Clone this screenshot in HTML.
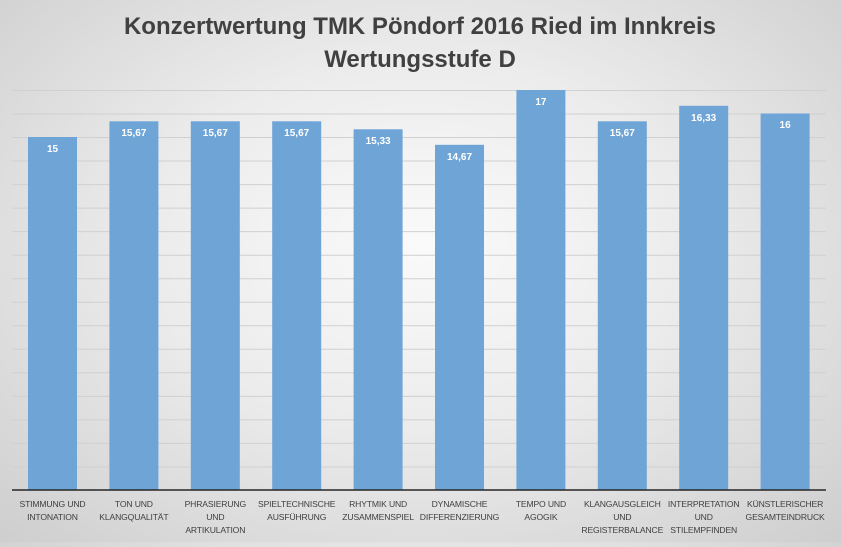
<!DOCTYPE html>
<html><head><meta charset="utf-8"><style>
html,body{margin:0;padding:0}
body{width:841px;height:542px;overflow:hidden;background:radial-gradient(ellipse 70% 75% at 50% 45%,#fafafa 0%,#ececec 45%,#cfcfcf 100%);font-family:"Liberation Sans",sans-serif;}
</style></head><body>
<svg width="841" height="542" xmlns="http://www.w3.org/2000/svg" font-family="Liberation Sans, sans-serif">
<text x="420" y="34" text-anchor="middle" font-size="24" font-weight="bold" fill="#404040">Konzertwertung TMK Pöndorf 2016 Ried im Innkreis</text>
<text x="420" y="67" text-anchor="middle" font-size="24" font-weight="bold" fill="#404040">Wertungsstufe D</text>
<g stroke="#d0d0d0" stroke-width="1">
<line x1="12" x2="826" y1="90.5" y2="90.5"/><line x1="12" x2="826" y1="114" y2="114"/><line x1="12" x2="826" y1="137.5" y2="137.5"/><line x1="12" x2="826" y1="161" y2="161"/><line x1="12" x2="826" y1="184.6" y2="184.6"/><line x1="12" x2="826" y1="208.1" y2="208.1"/><line x1="12" x2="826" y1="231.6" y2="231.6"/><line x1="12" x2="826" y1="255.2" y2="255.2"/><line x1="12" x2="826" y1="278.7" y2="278.7"/><line x1="12" x2="826" y1="302.2" y2="302.2"/><line x1="12" x2="826" y1="325.8" y2="325.8"/><line x1="12" x2="826" y1="349.3" y2="349.3"/><line x1="12" x2="826" y1="372.8" y2="372.8"/><line x1="12" x2="826" y1="396.4" y2="396.4"/><line x1="12" x2="826" y1="419.9" y2="419.9"/><line x1="12" x2="826" y1="443.4" y2="443.4"/><line x1="12" x2="826" y1="467" y2="467"/>
</g>
<g fill="#6ea5d6">
<rect x="28" y="137" width="49" height="353"/>
<rect x="109.4" y="121.3" width="49" height="368.7"/>
<rect x="190.8" y="121.3" width="49" height="368.7"/>
<rect x="272.2" y="121.3" width="49" height="368.7"/>
<rect x="353.6" y="129.3" width="49" height="360.7"/>
<rect x="435" y="144.8" width="49" height="345.2"/>
<rect x="516.4" y="90" width="49" height="400"/>
<rect x="597.8" y="121.3" width="49" height="368.7"/>
<rect x="679.2" y="105.8" width="49" height="384.2"/>
<rect x="760.6" y="113.5" width="49" height="376.5"/>
</g>
<line x1="12" x2="826" y1="490" y2="490" stroke="#262626" stroke-width="1.5"/>
<g fill="#fff" font-size="10" font-weight="bold" text-anchor="middle">
<text x="52.5" y="152">15</text><text x="133.9" y="136">15,67</text><text x="215.3" y="136">15,67</text><text x="296.7" y="136">15,67</text><text x="378.1" y="144">15,33</text><text x="459.5" y="160">14,67</text><text x="540.9" y="105">17</text><text x="622.3" y="136">15,67</text><text x="703.7" y="121">16,33</text><text x="785.1" y="128">16</text>
</g>
<g fill="#404040" font-size="8.6" text-anchor="middle" letter-spacing="-0.15">
<text x="52.5" y="507">STIMMUNG UND</text><text x="52.5" y="520">INTONATION</text>
<text x="133.9" y="507">TON UND</text><text x="133.9" y="520">KLANGQUALITÄT</text>
<text x="215.3" y="507">PHRASIERUNG</text><text x="215.3" y="520">UND</text><text x="215.3" y="533">ARTIKULATION</text>
<text x="296.7" y="507">SPIELTECHNISCHE</text><text x="296.7" y="520">AUSFÜHRUNG</text>
<text x="378.1" y="507">RHYTMIK UND</text><text x="378.1" y="520">ZUSAMMENSPIEL</text>
<text x="459.5" y="507">DYNAMISCHE</text><text x="459.5" y="520">DIFFERENZIERUNG</text>
<text x="540.9" y="507">TEMPO UND</text><text x="540.9" y="520">AGOGIK</text>
<text x="622.3" y="507">KLANGAUSGLEICH</text><text x="622.3" y="520">UND</text><text x="622.3" y="533">REGISTERBALANCE</text>
<text x="703.7" y="507">INTERPRETATION</text><text x="703.7" y="520">UND</text><text x="703.7" y="533">STILEMPFINDEN</text>
<text x="785.1" y="507">KÜNSTLERISCHER</text><text x="785.1" y="520">GESAMTEINDRUCK</text>
</g>
</svg>
</body></html>
